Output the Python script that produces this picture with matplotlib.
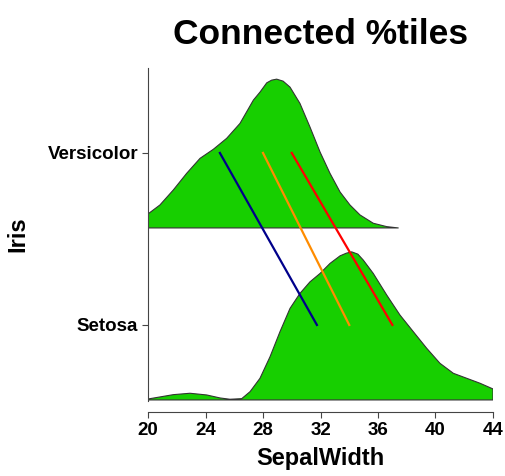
import matplotlib
matplotlib.use('Agg')
import matplotlib.pyplot as plt

plt.rcParams['font.family'] = ['Liberation Sans', 'DejaVu Sans']
plt.rcParams['font.weight'] = 'bold'

# groups, bottom to top
groups = ['Setosa', 'Versicolor']

# density curves (relative heights)
vers_x = [20.0, 20.83, 21.76, 22.69, 23.62, 24.54, 25.47, 26.40, 27.33, 27.79, 28.26,
          28.6, 28.95, 29.4, 29.88, 30.57, 31.27, 31.97, 32.66, 33.36, 34.05, 34.75,
          35.67, 36.61, 37.41]
vers_y = [14, 23, 38, 54.7, 69.7, 78.7, 89.7, 104.7, 128, 136, 145.3,
          148, 149, 147, 141, 124.7, 101, 76, 54.7, 36, 23, 13,
          4.7, 1.3, 0]

set_x = [20.02, 20.83, 21.76, 22.92, 24.08, 25.01, 25.70, 26.52, 27.10, 27.79, 28.49,
         29.18, 29.88, 30.57, 31.27, 31.97, 32.66, 33.36, 33.8, 34.17, 34.6, 34.98,
         35.67, 36.61, 37.53, 38.46, 39.39, 40.31, 41.24, 42.17, 43.10, 44.0]
set_y = [1, 3, 5.3, 6.7, 5, 2, 0.7, 1.3, 8.3, 21.7, 43.3,
         68.3, 91.7, 106.7, 118.3, 126.7, 136.7, 144.3, 147, 148.3, 146, 140,
         126.7, 105, 85, 68.3, 51.7, 36.7, 26.7, 21.7, 16.7, 11]

# 25th, 50th, 75th percentiles per group
pct_setosa = [31.75, 34.0, 37.0]
pct_versicolor = [25.0, 28.0, 30.0]
pct_colors = ['#00008b', '#ff8c00', '#ff0000']

xticks = [20, 24, 28, 32, 36, 40, 44]

fig = plt.figure(figsize=(5.06, 4.76), dpi=100)
ax = fig.add_axes([0.2925, 0.1576, 0.6818, 0.6996])

# spine position first, it resets the tick labels
ax.spines['top'].set_visible(False)
ax.spines['right'].set_visible(False)
ax.spines['bottom'].set_position(('outward', 8))
ax.spines['left'].set_color('#444444')
ax.spines['bottom'].set_color('#444444')

peak = max(max(vers_y), max(set_y))
scale = 0.865
label_off = 0.436
green = '#17cf00'

for base, xs, ys in [(1, vers_x, vers_y), (0, set_x, set_y)]:
    top = [base + v / peak * scale for v in ys]
    px = [xs[0]] + xs + [xs[-1]]
    py = [base] + top + [base]
    ax.fill(px, py, facecolor=green, edgecolor='#333333', linewidth=0.8,
            joinstyle='round', zorder=2)

for a, b, c in zip(pct_versicolor, pct_setosa, pct_colors):
    ax.plot([a, b], [1 + label_off, label_off], color=c, linewidth=1.6, zorder=3)

ax.set_xlim(20, 44)
ax.set_ylim(-0.006, 1.93)
ax.set_xticks(xticks)
ax.set_xticklabels([str(t) for t in xticks])
ax.set_yticks([label_off, 1 + label_off])
ax.set_yticklabels(groups)
ax.tick_params(axis='both', length=4, color='#444444', pad=3, labelsize=13.5)

ax.set_title('Connected %tiles', fontsize=25.5, fontweight='bold', pad=17)
ax.set_xlabel('SepalWidth', fontsize=17, fontweight='bold', labelpad=6)
ax.set_ylabel('Iris', fontsize=17, fontweight='bold', labelpad=13)

fig.savefig('out.png', dpi=100)
